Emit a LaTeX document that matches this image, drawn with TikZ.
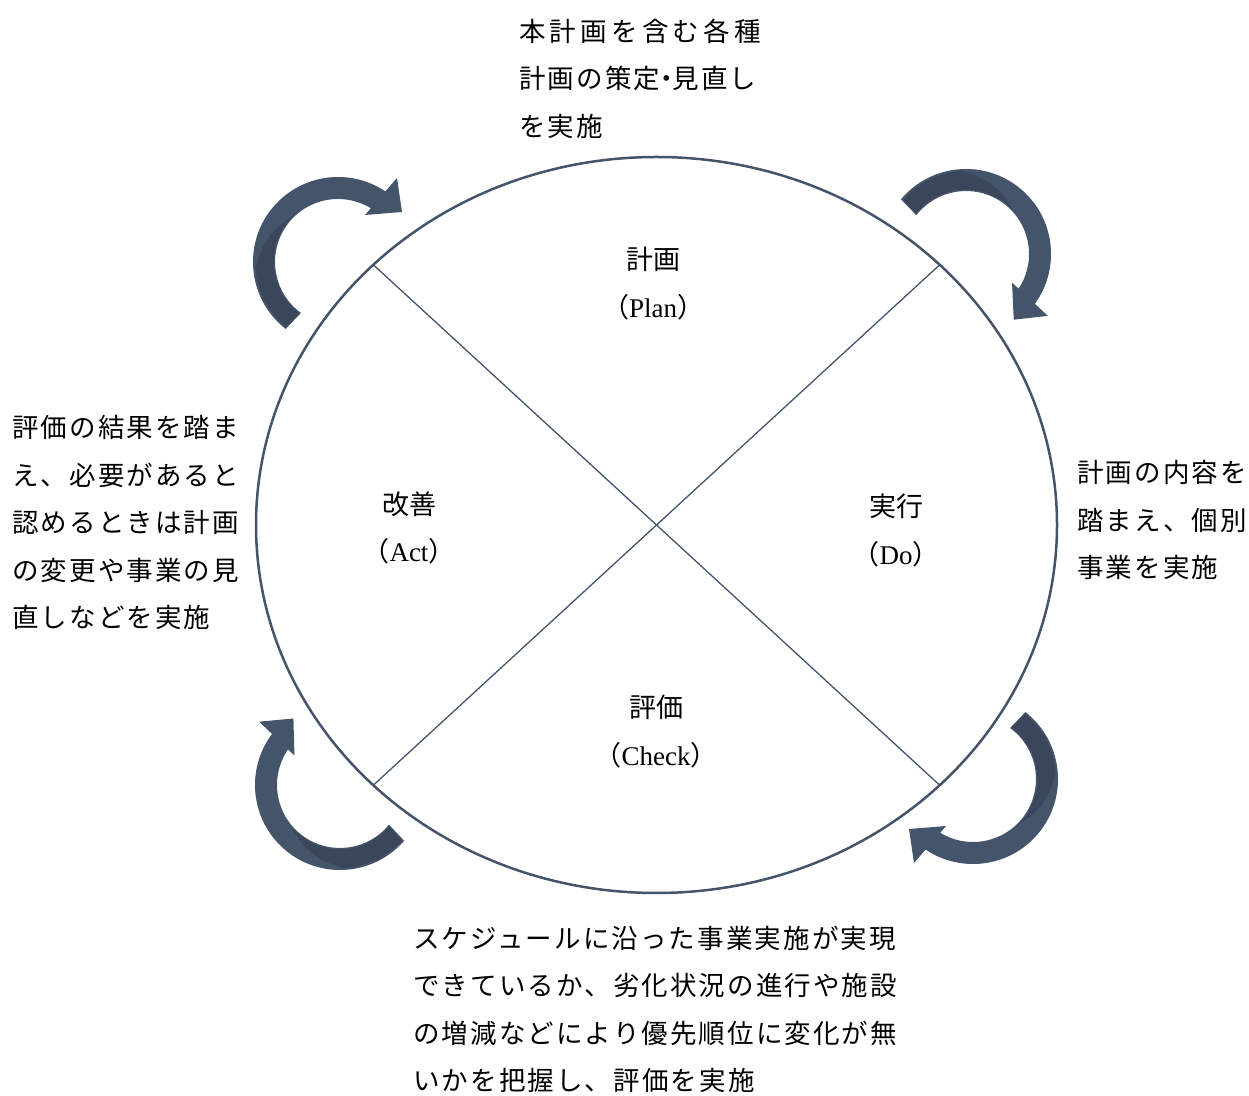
\documentclass[tikz,border=0pt]{standalone}
\usepackage{fontspec}
\setmainfont{Liberation Serif}
\newfontfamily\cjk[LetterSpace=8]{Noto Sans CJK JP}
\newfontfamily\cjklab{Noto Sans CJK JP}
\definecolor{arrowblue}{HTML}{44546A}
\definecolor{arrowdark}{HTML}{3A4659}
\newcommand{\nakaguro}{\kern-7pt・\kern-7pt}
\tikzset{
  desc/.style={inner sep=0pt, anchor=west, align=left, text=black,
    font=\cjk\fontsize{26.5}{47.5}\selectfont},
  lab/.style={inner sep=0pt, align=center, text=black,
    font=\fontsize{27}{47.5}\selectfont},
  cycarrow/.pic={
    \fill[arrowblue] (232:85) arc[start angle=232,end angle=56.1,radius=85]
      -- (59,84) -- (64,50) -- (27,47) -- (58.6:63)
      arc[start angle=58.6,end angle=234,radius=63] -- cycle;
    \fill[arrowdark] (231:83) arc[start angle=231,end angle=185,radius=83]
      .. controls (160:79) and (150:70) .. (135:64.5)
      arc[start angle=135,end angle=233,radius=64.5] -- cycle;
  }
}
\begin{document}
\begin{tikzpicture}[x=1pt,y=1pt]
\useasboundingbox (0,0) rectangle (1249,1095);
\coordinate (c) at (656.5,570);
\draw[arrowblue, line width=2.5pt] (c) ellipse [x radius=400.5, y radius=368];
\path (c) ++(135:400.5 and 368) coordinate (a1);
\path (c) ++(315:400.5 and 368) coordinate (a2);
\path (c) ++(45:400.5 and 368) coordinate (b1);
\path (c) ++(225:400.5 and 368) coordinate (b2);
\draw[arrowblue, line width=1.3pt] (a1) -- (a2);
\draw[arrowblue, line width=1.3pt] (b1) -- (b2);

\pic (tl) at (338,833) {cycarrow};
\pic[rotate=-92] (tr) at (966,841) {cycarrow};
\pic[rotate=180] (br) at (973,316) {cycarrow};
\pic[rotate=87] (bl) at (340,310) {cycarrow};

\node[lab] (plan) at (653,811.5) {{\cjklab 計画}\\{\cjklab （}Plan{\cjklab ）}};
\node[lab] (act) at (409,567) {{\cjklab 改善}\\{\cjklab （}Act{\cjklab ）}};
\node[lab] (do) at (896,564.5) {{\cjklab 実行}\\{\cjklab （}Do{\cjklab ）}};
\node[lab] (check) at (656,363.5) {{\cjklab 評価}\\{\cjklab （}Check{\cjklab ）}};

\node[desc] (plandesc) at (519,1016.5) {{\addfontfeature{LetterSpace=16}本計画を含む各種}\\計画の策定\nakaguro 見直し\\を実施};
\node[desc] (actdesc) at (12,572.5) {評価の結果を踏ま\\え、必要があると\\認めるときは計画\\の変更や事業の見\\直しなどを実施};
\node[desc] (dodesc) at (1077,575) {計画の内容を\\踏まえ、個別\\事業を実施};
\node[desc] (checkdesc) at (413,85.5) {スケジュールに沿った事業実施が実現\\できているか、劣化状況の進行や施設\\の増減などにより優先順位に変化が無\\いかを把握し、評価を実施};
\end{tikzpicture}
\end{document}
